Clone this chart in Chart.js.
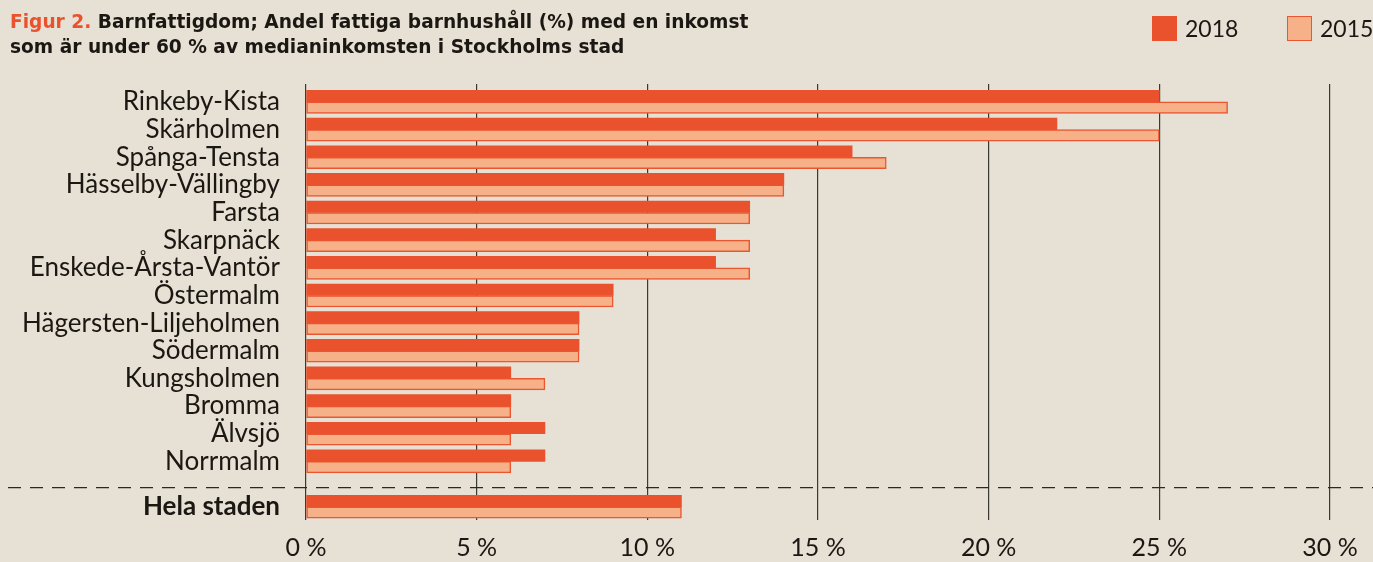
<!DOCTYPE html>
<html>
<head>
<meta charset="utf-8">
<script src="https://cdn.jsdelivr.net/npm/chart.js@4.4.1/dist/chart.umd.min.js"></script>
<style>
  body { margin: 0; background: #e7e0d4; }
  #wrap { position: relative; width: 1373px; height: 562px; }
  #title {
    position: absolute; left: 10px; top: 9px;
    font: bold 18.6px "DejaVu Sans", sans-serif; line-height: 25px; color: #1b1712;
  }
  #title span { color: #e9522c; }
  #legend { position: absolute; top: 16px; left: 0; font: 23px Lato, sans-serif; color: #1b1712; }
  #legend div { position: absolute; white-space: nowrap; height: 25px; line-height: 25px; }
  #legend i { position: absolute; left: 0; top: 0; width: 25px; height: 25px; box-sizing: border-box; }
  #legend b { position: absolute; left: 33px; top: 0; font-weight: normal; }
</style>
</head>
<body>
<div id="wrap">
  <canvas id="myChart" width="1373" height="562"></canvas>
  <div id="title"><span>Figur 2.</span> Barnfattigdom; Andel fattiga barnhushåll (%) med en inkomst<br>som är under 60 % av medianinkomsten i Stockholms stad</div>
  <div id="legend"></div>
</div>
<script>
const districts = [
  "Rinkeby-Kista", "Skärholmen", "Spånga-Tensta", "Hässelby-Vällingby", "Farsta",
  "Skarpnäck", "Enskede-Årsta-Vantör", "Östermalm", "Hägersten-Liljeholmen",
  "Södermalm", "Kungsholmen", "Bromma", "Älvsjö", "Norrmalm", "Hela staden"
];
const v2018 = [25, 22, 16, 14, 13, 12, 12, 9, 8, 8, 6, 6, 7, 7, 11];
const v2015 = [27, 25, 17, 14, 13, 13, 13, 9, 8, 8, 7, 6, 6, 6, 11];
const xTicks = [0, 5, 10, 15, 20, 25, 30];

const ink = '#1b1712';
const last = districts.length - 1;
// the total row sits a bit further down, below the dashed divider
const rowPos = districts.map((_, i) => i < last ? i : i + 0.64);

const dividerPlugin = {
  id: 'divider',
  beforeDatasetsDraw(chart) {
    const ctx = chart.ctx;
    const y = chart.scales.y.getPixelForValue(13.95);
    ctx.save();
    ctx.strokeStyle = '#2b2723';
    ctx.lineWidth = 1.3;
    ctx.setLineDash([13, 9]);
    ctx.beginPath();
    ctx.moveTo(8, y);
    ctx.lineTo(chart.width, y);
    ctx.stroke();
    ctx.restore();
  }
};

const chart = new Chart(document.getElementById('myChart'), {
  type: 'bar',
  data: {
    datasets: [{
      label: '2018',
      data: v2018.map((v, i) => ({x: v, y: rowPos[i]})),
      backgroundColor: '#e9522c',
      borderColor: '#e9522c',
      borderWidth: 0,
      barThickness: 11.5
    }, {
      label: '2015',
      data: v2015.map((v, i) => ({x: v, y: rowPos[i]})),
      backgroundColor: '#f6b189',
      borderColor: '#ea5630',
      borderWidth: 1.5,
      borderSkipped: false,
      barThickness: 11.5
    }]
  },
  options: {
    indexAxis: 'y',
    responsive: false,
    animation: false,
    layout: {padding: {left: 10, right: 43, top: 84, bottom: 0}},
    plugins: {
      tooltip: {enabled: false},
      legend: {display: false}
    },
    scales: {
      x: {
        type: 'linear',
        min: 0,
        max: 30,
        afterBuildTicks: s => { s.ticks = xTicks.map(v => ({value: v})); },
        afterFit: s => { s.height = 40; },
        grid: {color: '#3b3936', lineWidth: 1.2, drawTicks: false},
        border: {display: false},
        ticks: {
          padding: 15,
          color: ink,
          font: {family: 'Lato', size: 25, lineHeight: 1},
          callback: v => v + ' %'
        }
      },
      y: {
        type: 'linear',
        reverse: true,
        offset: false,
        min: -0.649,
        max: 15.135,
        afterBuildTicks: s => { s.ticks = rowPos.map(v => ({value: v})); },
        afterFit: s => { s.width = 296; },
        grid: {display: false, drawTicks: false},
        border: {display: false},
        ticks: {
          autoSkip: false,
          padding: 26,
          color: ink,
          font: c => ({family: 'Lato', size: 26, weight: c.index === last ? 'bold' : 'normal'}),
          callback: (v, i) => districts[i]
        }
      }
    }
  },
  plugins: [dividerPlugin]
});

// legend in the top right corner, built from the datasets
const legendX = [1152, 1287];
document.getElementById('legend').innerHTML = chart.data.datasets.map((d, i) =>
  `<div style="left:${legendX[i]}px"><i style="background:${d.backgroundColor};border:${d.borderWidth}px solid ${d.borderColor}"></i><b>${d.label}</b></div>`
).join('');
</script>
</body>
</html>
